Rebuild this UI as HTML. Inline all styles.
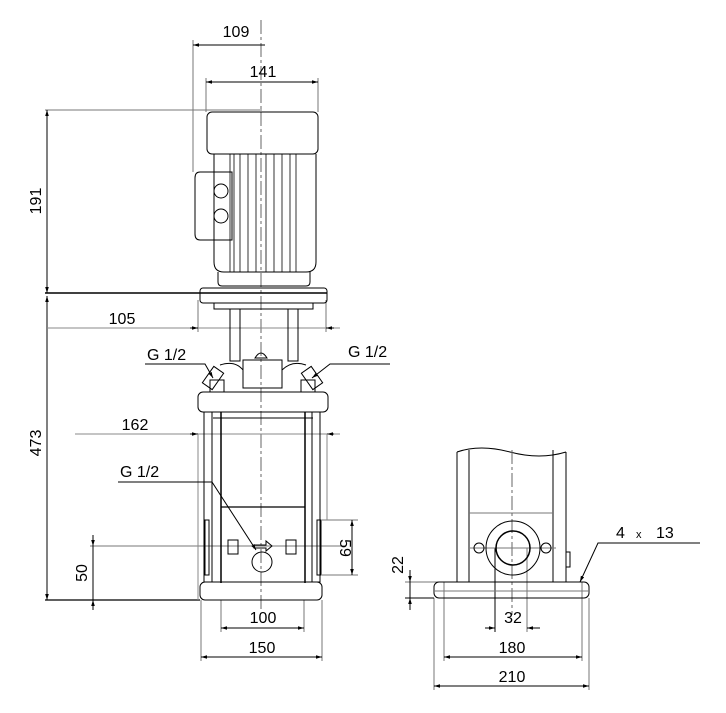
<!DOCTYPE html>
<html><head><meta charset="utf-8"><style>
html,body{margin:0;padding:0;background:#fff}
svg{display:block}
text{font-family:"Liberation Sans",sans-serif;font-size:16px;fill:#000}
</style></head><body>
<svg width="726" height="713" viewBox="0 0 726 713" xmlns="http://www.w3.org/2000/svg">
<defs>
<marker id="a" viewBox="0 0 10 10" refX="10" refY="5" markerWidth="6" markerHeight="6" orient="auto-start-reverse"><path d="M0,2 L10,5 L0,8z" fill="#000"/></marker>
</defs>
<g stroke="#000" fill="none" stroke-width="1">
<line x1="261" y1="20" x2="261" y2="612" stroke="#666" stroke-dasharray="14,3,3,3"/>
<g stroke="#777">
<line x1="193" y1="40" x2="193" y2="172"/>
<line x1="206" y1="78" x2="206" y2="112"/>
<line x1="318" y1="78" x2="318" y2="112"/>
<line x1="45" y1="110" x2="262" y2="110"/>
<line x1="198" y1="300" x2="198" y2="332"/>
<line x1="326" y1="300" x2="326" y2="332"/>
<line x1="90" y1="546" x2="345" y2="546"/>
<line x1="322" y1="520" x2="358" y2="520"/>
<line x1="322" y1="575" x2="358" y2="575"/>
<line x1="221" y1="600" x2="221" y2="632"/>
<line x1="304" y1="600" x2="304" y2="632"/>
<line x1="201" y1="600" x2="201" y2="661"/>
<line x1="322" y1="600" x2="322" y2="661"/>
<line x1="405" y1="582" x2="445" y2="582"/>
<line x1="444" y1="582" x2="444" y2="661"/>
<line x1="582" y1="582" x2="582" y2="661"/>
<line x1="434" y1="598" x2="434" y2="690"/>
<line x1="589" y1="598" x2="589" y2="690"/>
<line x1="527" y1="548" x2="527" y2="632"/>
</g>
<line x1="45" y1="293" x2="200" y2="293" stroke-width="1.5"/>
<line x1="45" y1="600" x2="200" y2="600" stroke-width="1.2"/>
<line x1="405" y1="598" x2="434" y2="598"/>
<line x1="495" y1="548" x2="495" y2="632"/>
<line x1="193" y1="45" x2="265" y2="45" marker-start="url(#a)"/>
<line x1="206" y1="82" x2="318" y2="82" marker-start="url(#a)" marker-end="url(#a)"/>
<line x1="47" y1="110" x2="47" y2="293" marker-start="url(#a)" marker-end="url(#a)"/>
<line x1="47" y1="296" x2="47" y2="600" marker-start="url(#a)" marker-end="url(#a)"/>
<line x1="47" y1="328" x2="340" y2="328" stroke="#888"/>
<line x1="190" y1="328" x2="198" y2="328" marker-end="url(#a)"/>
<line x1="334" y1="328" x2="326" y2="328" marker-end="url(#a)"/>
<line x1="75" y1="434" x2="340" y2="434" stroke="#888"/>
<line x1="190" y1="434" x2="198" y2="434" marker-end="url(#a)"/>
<line x1="334" y1="434" x2="327" y2="434" marker-end="url(#a)"/>
<line x1="198" y1="434" x2="198" y2="600" stroke="#888"/>
<line x1="327" y1="434" x2="327" y2="520" stroke="#888"/>
<line x1="93" y1="535" x2="93" y2="546" marker-end="url(#a)"/>
<line x1="93" y1="546" x2="93" y2="600"/>
<line x1="93" y1="610" x2="93" y2="600" marker-end="url(#a)"/>
<line x1="352" y1="520" x2="352" y2="575" marker-start="url(#a)" marker-end="url(#a)"/>
<line x1="221" y1="628" x2="304" y2="628" marker-start="url(#a)" marker-end="url(#a)"/>
<line x1="201" y1="657" x2="322" y2="657" marker-start="url(#a)" marker-end="url(#a)"/>
<line x1="410" y1="570" x2="410" y2="582" marker-end="url(#a)"/>
<line x1="410" y1="582" x2="410" y2="598"/>
<line x1="410" y1="610" x2="410" y2="598" marker-end="url(#a)"/>
<line x1="485" y1="628" x2="495" y2="628" marker-end="url(#a)"/>
<line x1="540" y1="628" x2="527" y2="628" marker-end="url(#a)"/>
<line x1="444" y1="657" x2="582" y2="657" marker-start="url(#a)" marker-end="url(#a)"/>
<line x1="434" y1="686" x2="589" y2="686" marker-start="url(#a)" marker-end="url(#a)"/>
<polyline points="145,364 205,364 213,378" marker-end="url(#a)"/>
<polyline points="390,364 330,364 312,378" marker-end="url(#a)"/>
<polyline points="118,482 212,482 256,550" marker-end="url(#a)"/>
<polyline points="700,543 598,543 580,582" marker-end="url(#a)"/>
<rect x="207" y="112" width="111" height="42" rx="5"/>
<path d="M214,154 V262 Q214,272 224,272 H306 Q316,272 316,262 V154"/>
<g stroke-width="0.8"><line x1="230" y1="154" x2="230" y2="272"/><line x1="234" y1="154" x2="234" y2="272"/><line x1="240" y1="154" x2="240" y2="272"/><line x1="248" y1="154" x2="248" y2="272"/><line x1="256" y1="154" x2="256" y2="272"/><line x1="266" y1="154" x2="266" y2="272"/><line x1="274" y1="154" x2="274" y2="272"/><line x1="282" y1="154" x2="282" y2="272"/><line x1="290" y1="154" x2="290" y2="272"/><line x1="296" y1="154" x2="296" y2="272"/></g>
<path d="M232,172 H200 Q195,172 195,178 V234 Q195,240 200,240 H232 Z"/>
<line x1="214" y1="172" x2="214" y2="240"/>
<circle cx="221" cy="191" r="7"/><circle cx="221" cy="216" r="7"/>
<path d="M218,272 V282 Q218,286 222,286 H306 Q310,286 310,282 V272"/>
<rect x="200" y="288" width="127" height="15" rx="3"/>
<line x1="200" y1="293" x2="327" y2="293" stroke-width="1.5"/>
<rect x="214" y="303" width="99" height="6"/>
<rect x="230" y="309" width="10" height="52"/><rect x="288" y="309" width="10" height="52"/>
<path d="M220,365 Q235,360 243,370 M306,365 Q292,360 282,370"/>
<rect x="243" y="360" width="39" height="28"/>
<path d="M255,358 Q261,348 267,358 Z"/>
<rect x="207" y="368" width="12" height="20" transform="rotate(35 213 378)"/>
<rect x="306" y="368" width="12" height="20" transform="rotate(-35 312 378)"/>
<rect x="210" y="380" width="14" height="12"/><rect x="301" y="380" width="14" height="12"/>
<rect x="198" y="392" width="130" height="20" rx="5"/>
<rect x="204" y="412" width="8" height="170"/><rect x="312" y="412" width="8" height="170"/>
<line x1="221" y1="412" x2="221" y2="583" stroke-width="1.5"/>
<line x1="305" y1="412" x2="305" y2="583" stroke-width="1.5"/>
<line x1="213" y1="418" x2="313" y2="418"/>
<line x1="221" y1="507" x2="305" y2="507" stroke-width="1.2"/>
<rect x="205" y="520" width="4" height="55"/><rect x="317" y="520" width="4" height="55"/>
<rect x="228" y="540" width="10" height="14"/><rect x="286" y="540" width="10" height="14"/>
<circle cx="262" cy="562" r="10"/>
<path d="M254,545 H266 V541 L272,546 L266,551 V548 H254 Z"/>
<rect x="200" y="582" width="122" height="18" rx="5"/>
<path d="M457,452 Q480,444 510,452 T566,452" />
<line x1="457" y1="452" x2="457" y2="582"/><line x1="566" y1="452" x2="566" y2="582"/>
<line x1="469" y1="450" x2="469" y2="582"/><line x1="553" y1="450" x2="553" y2="582"/>
<line x1="469" y1="513" x2="553" y2="513" stroke="#777"/>
<line x1="512" y1="450" x2="512" y2="615" stroke="#666" stroke-dasharray="14,3,3,3"/>
<line x1="470" y1="548" x2="556" y2="548" stroke="#777"/>
<circle cx="513" cy="548" r="27"/><circle cx="513" cy="548" r="17" stroke-width="1.5"/>
<circle cx="479" cy="548" r="5"/><circle cx="546" cy="548" r="5"/>
<rect x="566" y="552" width="4" height="15"/>
<rect x="434" y="582" width="155" height="16" rx="5"/>
<line x1="434" y1="591" x2="589" y2="591" stroke="#777"/>
</g>
<text x="236" y="37" text-anchor="middle">109</text>
<text x="263" y="77" text-anchor="middle">141</text>
<text x="0" y="0" text-anchor="middle" transform="translate(41,201) rotate(-90)">191</text>
<text x="0" y="0" text-anchor="middle" transform="translate(41,443) rotate(-90)">473</text>
<text x="122" y="324" text-anchor="middle">105</text>
<text x="147" y="360">G 1/2</text>
<text x="348" y="357">G 1/2</text>
<text x="135" y="430" text-anchor="middle">162</text>
<text x="120" y="477">G 1/2</text>
<text x="0" y="0" text-anchor="middle" transform="translate(87,573) rotate(-90)">50</text>
<text x="0" y="0" text-anchor="middle" transform="translate(340,548) rotate(90)">59</text>
<text x="263" y="623" text-anchor="middle">100</text>
<text x="262" y="653" text-anchor="middle">150</text>
<text x="0" y="0" text-anchor="middle" transform="translate(403,565) rotate(-90)">22</text>
<text x="513" y="623" text-anchor="middle">32</text>
<text x="512" y="653" text-anchor="middle">180</text>
<text x="512" y="682" text-anchor="middle">210</text>
<text x="616" y="538">4</text>
<text x="636" y="538" style="font-size:11px">x</text>
<text x="656" y="538">13</text>
</svg>
</body></html>
